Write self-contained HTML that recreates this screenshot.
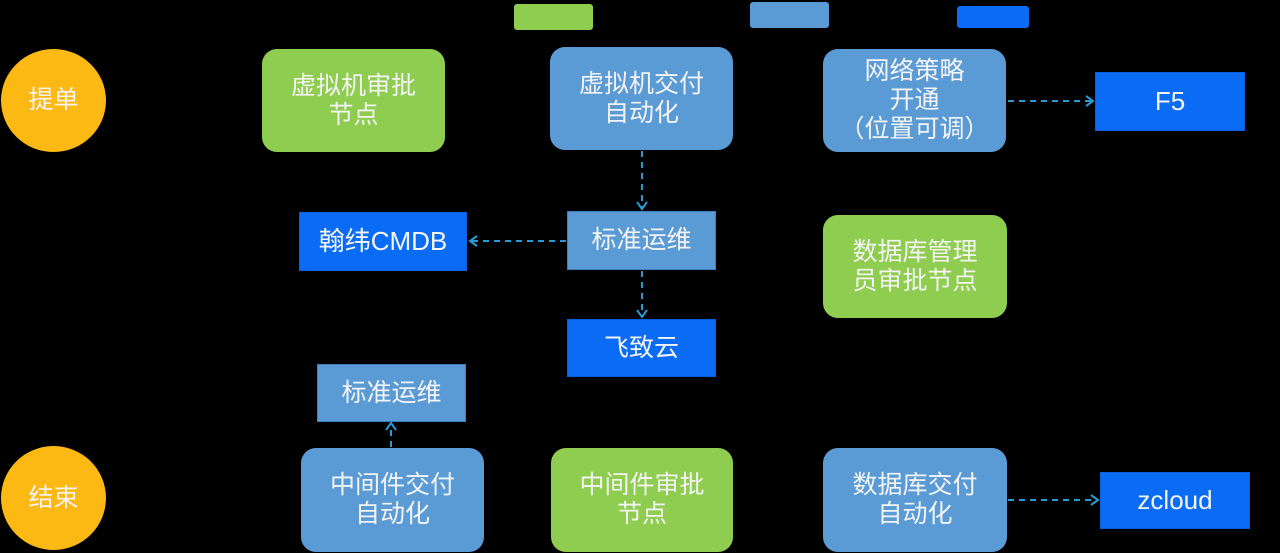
<!DOCTYPE html>
<html>
<head>
<meta charset="utf-8">
<style>
  html,body{margin:0;padding:0;background:#000;}
  body{width:1280px;height:553px;position:relative;overflow:hidden;
       font-family:"Liberation Sans","Noto Sans CJK SC",sans-serif;}
  .n{position:absolute;display:flex;align-items:center;justify-content:center;
     text-align:center;color:#f4f4f4;font-size:25px;line-height:29px;box-sizing:border-box;}
  .g{background:#8fcd50;border-radius:15px;}
  .lb{background:#5b9bd5;border-radius:15px;}
  .lbr{background:#5b9bd5;border:1px solid #3f7fc0;}
  .b{background:#0a6cf5;border:1px solid #0a5ee0;font-size:26px;}
  .c{background:#fdb913;border-radius:50%;}
  .leg{position:absolute;border-radius:3px;}
  svg{position:absolute;left:0;top:0;}
</style>
</head>
<body>
<div class="leg" style="left:514px;top:4px;width:79px;height:26px;background:#8fcd50;"></div>
<div class="leg" style="left:750px;top:2px;width:79px;height:26px;background:#5b9bd5;"></div>
<div class="leg" style="left:957px;top:6px;width:72px;height:22px;background:#0a6cf5;"></div>

<div class="n c" style="left:1px;top:49px;width:105px;height:103px;">提单</div>
<div class="n c" style="left:1px;top:446px;width:105px;height:104px;">结束</div>

<div class="n g" style="left:262px;top:49px;width:183px;height:103px;">虚拟机审批<br>节点</div>
<div class="n lb" style="left:550px;top:47px;width:183px;height:103px;">虚拟机交付<br>自动化</div>
<div class="n lb" style="left:823px;top:49px;width:183px;height:103px;">网络策略<br>开通<br>（位置可调）</div>
<div class="n b" style="left:1095px;top:72px;width:150px;height:59px;">F5</div>

<div class="n b" style="left:299px;top:212px;width:168px;height:59px;">翰纬CMDB</div>
<div class="n lbr" style="left:567px;top:211px;width:149px;height:59px;">标准运维</div>
<div class="n g" style="left:823px;top:215px;width:184px;height:103px;">数据库管理<br>员审批节点</div>
<div class="n b" style="left:567px;top:319px;width:149px;height:58px;font-size:25px;">飞致云</div>

<div class="n lbr" style="left:317px;top:364px;width:149px;height:58px;">标准运维</div>

<div class="n lb" style="left:301px;top:448px;width:183px;height:104px;">中间件交付<br>自动化</div>
<div class="n g" style="left:551px;top:448px;width:182px;height:104px;">中间件审批<br>节点</div>
<div class="n lb" style="left:823px;top:448px;width:184px;height:104px;">数据库交付<br>自动化</div>
<div class="n b" style="left:1100px;top:472px;width:150px;height:57px;">zcloud</div>

<svg width="1280" height="553" viewBox="0 0 1280 553">
  <g stroke="#2a9ad6" stroke-width="2" fill="none">
    <line x1="642" y1="151" x2="642" y2="208" stroke-dasharray="6,5"/>
    <polyline points="637,202 642,209 647,202"/>
    <line x1="642" y1="271" x2="642" y2="316" stroke-dasharray="6,5"/>
    <polyline points="637,310 642,317 647,310"/>
    <line x1="566" y1="241" x2="471" y2="241" stroke-dasharray="6,5"/>
    <polyline points="477,236 470,241 477,246"/>
    <line x1="1008" y1="101" x2="1091" y2="101" stroke-dasharray="6,5"/>
    <polyline points="1086,96 1093,101 1086,106"/>
    <line x1="1008" y1="500" x2="1096" y2="500" stroke-dasharray="6,5"/>
    <polyline points="1091,495 1098,500 1091,505"/>
    <line x1="391" y1="447" x2="391" y2="426" stroke-dasharray="6,5"/>
    <polyline points="386,430 391,423 396,430"/>
  </g>
</svg>
</body>
</html>
